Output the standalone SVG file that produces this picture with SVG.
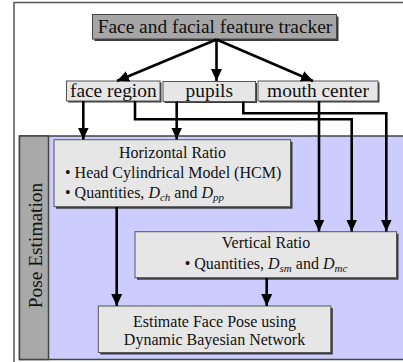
<svg xmlns="http://www.w3.org/2000/svg" width="403" height="362" viewBox="0 0 403 362">
<defs>
<marker id="ah" markerUnits="userSpaceOnUse" markerWidth="12" markerHeight="12" viewBox="0 0 12 12" refX="12" refY="6" orient="auto">
<path d="M0,0.5 L12,6 L0,11.5 Z" fill="#000"/>
</marker>
<style>
.t{font-family:"Liberation Serif","Times New Roman",serif;fill:#111}
.big{font-size:19.4px}
.mid{font-size:16px}
.sh{fill:#3a3a3a}
.bx{fill:#e6e6e6;stroke:#555;stroke-width:1}
.dk{fill:#a6a6a6;stroke:#444;stroke-width:1}
.c{fill:none;stroke:#000;stroke-width:2.6;marker-end:url(#ah)}
.it{font-style:italic}
</style>
</defs>
<rect width="403" height="362" fill="#fff"/>
<g id="frame">
<rect x="14" y="2.5" width="400" height="370" fill="none" stroke="#555" stroke-width="1.5"/>
</g>
<g id="panel">
<rect x="19.5" y="136" width="400" height="223.5" fill="#ccccff" stroke="#444" stroke-width="1.5"/>
<rect x="19.5" y="136" width="29" height="223.5" fill="#a9a9a9" stroke="#444" stroke-width="1.5"/>
<text class="t big" transform="translate(41.5 245.5) rotate(-90)" text-anchor="middle">Pose Estimation</text>
</g>
<g id="tracker">
<rect class="sh" x="94.5" y="16.5" width="244" height="24.5"/>
<rect class="dk" x="92.5" y="14.5" width="244" height="24.5"/>
<text class="t big" x="215" y="33" text-anchor="middle">Face and facial feature tracker</text>
</g>
<g id="face-region">
<rect class="sh" x="68" y="82.5" width="93.5" height="20"/>
<rect class="bx" x="66.5" y="81" width="93.5" height="20"/>
<text class="t big" x="113.3" y="96.5" text-anchor="middle">face region</text>
</g>
<g id="pupils">
<rect class="sh" x="164.5" y="83" width="92.5" height="20"/>
<rect class="bx" x="163" y="81.5" width="92.5" height="20"/>
<text class="t big" x="209.3" y="96.5" text-anchor="middle">pupils</text>
</g>
<g id="mouth-center">
<rect class="sh" x="259.5" y="82.5" width="120" height="20"/>
<rect class="bx" x="258" y="81" width="120" height="20"/>
<text class="t big" x="318" y="96.5" text-anchor="middle">mouth center</text>
</g>
<g id="horizontal-ratio">
<rect class="sh" x="56" y="141.7" width="236.5" height="67"/>
<rect class="bx" x="54" y="139.7" width="236.5" height="67"/>
<text class="t mid" x="172.5" y="158.3" text-anchor="middle">Horizontal Ratio</text>
<text class="t mid" x="65" y="178.3">• Head Cylindrical Model (HCM)</text>
<text class="t mid" x="65" y="198.3">• Quantities, <tspan class="it">D</tspan><tspan class="it" font-size="11" dy="3">ch</tspan><tspan dy="-3"> and </tspan><tspan class="it">D</tspan><tspan class="it" font-size="11" dy="3">pp</tspan></text>
</g>
<g id="vertical-ratio">
<rect class="sh" x="137" y="233.7" width="261.5" height="46"/>
<rect class="bx" x="135" y="231.7" width="261.5" height="46"/>
<text class="t mid" x="266" y="247.7" text-anchor="middle">Vertical Ratio</text>
<text class="t mid" x="266" y="269.3" text-anchor="middle">• Quantities, <tspan class="it">D</tspan><tspan class="it" font-size="11" dy="3">sm</tspan><tspan dy="-3"> and </tspan><tspan class="it">D</tspan><tspan class="it" font-size="11" dy="3">mc</tspan></text>
</g>
<g id="estimate-pose">
<rect class="sh" x="100.3" y="308" width="232.5" height="46.5"/>
<rect class="bx" x="98.3" y="306" width="232.5" height="46.5"/>
<text class="t mid" x="214.5" y="326.7" text-anchor="middle">Estimate Face Pose using</text>
<text class="t mid" x="214.5" y="345" text-anchor="middle">Dynamic Bayesian Network</text>
</g>
<g id="connectors">
<path class="c" d="M216.5,39.5 L117,81"/>
<path class="c" d="M216.5,39.5 L216.5,81"/>
<path class="c" d="M216.5,39.5 L313,81"/>
<path class="c" d="M83.3,101 L83.3,139.5"/>
<path class="c" d="M176.7,101.5 L176.7,139.5"/>
<path class="c" d="M135,101 L135,119.3 L351.7,119.3 L351.7,231.5"/>
<path class="c" d="M243.3,101.5 L243.3,113.3 L386.3,113.3 L386.3,231.5"/>
<path class="c" d="M319,101 L319,231.5"/>
<path class="c" d="M116.7,207 L116.7,306"/>
<path class="c" d="M266.7,278 L266.7,306"/>
</g>
</svg>
